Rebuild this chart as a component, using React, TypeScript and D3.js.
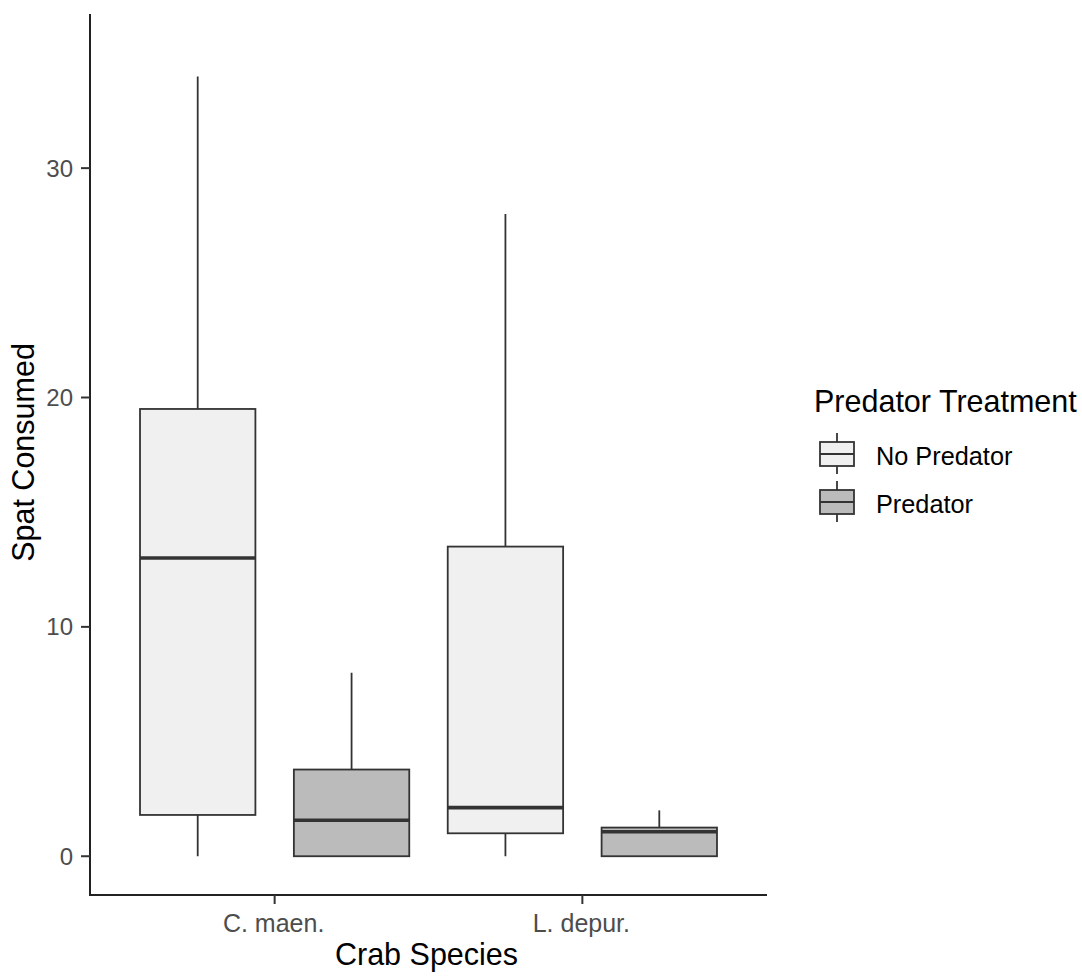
import React from "react";
import * as d3 from "d3";

const species = ["C. maen.", "L. depur."];
const treatments = ["No Predator", "Predator"];
const fills = ["#F0F0F0", "#BBBBBB"];
// [min, q1, median, q3, max] per species x treatment
const statsCMaen = [
  [0, 1.8, 13.0, 19.5, 34],
  [0, 0, 1.57, 3.78, 8],
];
const statsLDepur = [
  [0, 1.0, 2.12, 13.5, 28],
  [0, 0, 1.07, 1.25, 2],
];
const yTicks = [0, 10, 20, 30];

const W = 1082;
const H = 976;
const left = 90;
const right = 767;
const top = 14;
const bottom = 895;
const font = "'Liberation Sans', Arial, sans-serif";

export default function App() {
  const x = d3.scalePoint<string>().domain(species).range([left, right]).padding(0.6);
  const step = x.step();
  const y = d3.scaleLinear().domain([-1.69, 36.72]).range([bottom, top]);
  const offset = d3.scalePoint<string>().domain(treatments).range([-0.25 * step, 0.25 * step]);
  const boxW = 0.375 * step;
  const allStats = [statsCMaen, statsLDepur];

  return (
    <svg width={W} height={H} style={{ display: "block", position: "absolute", left: 0, top: 0 }}>
      <rect width={W} height={H} fill="#fff" />
      {species.map((sp, i) =>
        treatments.map((tr, j) => {
          const [mn, q1, md, q3, mx] = allStats[i][j];
          const cx = (x(sp) as number) + (offset(tr) as number);
          return (
            <g key={sp + tr}>
              <line x1={cx} x2={cx} y1={y(q3)} y2={y(mx)} stroke="#333" strokeWidth={1.8} />
              <line x1={cx} x2={cx} y1={y(q1)} y2={y(mn)} stroke="#333" strokeWidth={1.8} />
              <rect
                x={cx - boxW / 2}
                y={y(q3)}
                width={boxW}
                height={y(q1) - y(q3)}
                fill={fills[j]}
                stroke="#333"
                strokeWidth={1.8}
              />
              <line x1={cx - boxW / 2} x2={cx + boxW / 2} y1={y(md)} y2={y(md)} stroke="#333" strokeWidth={3.6} />
            </g>
          );
        })
      )}
      {/* axes */}
      <line x1={left} x2={left} y1={top} y2={bottom + 1} stroke="#222" strokeWidth={2} />
      <line x1={left - 1} x2={right} y1={bottom} y2={bottom} stroke="#222" strokeWidth={2} />
      {yTicks.map((t) => (
        <g key={t}>
          <line x1={left - 9} x2={left} y1={y(t)} y2={y(t)} stroke="#333" strokeWidth={2} />
          <text
            x={left - 17}
            y={y(t)}
            dy="0.35em"
            textAnchor="end"
            fontFamily={font}
            fontSize={24}
            fill="#4D4D4D"
          >
            {t}
          </text>
        </g>
      ))}
      {species.map((sp) => (
        <g key={sp}>
          <line x1={x(sp)} x2={x(sp)} y1={bottom} y2={bottom + 9} stroke="#333" strokeWidth={2} />
          <text x={(x(sp) as number) - 1} y={932} textAnchor="middle" fontFamily={font} fontSize={25} fill="#4D4D4D">
            {sp}
          </text>
        </g>
      ))}
      <text x={(left + right) / 2 - 2} y={965} textAnchor="middle" fontFamily={font} fontSize={30.5} fill="#000">
        Crab Species
      </text>
      <text
        transform={`translate(34, ${(top + bottom) / 2 - 2}) rotate(-90)`}
        textAnchor="middle"
        fontFamily={font}
        fontSize={30.5}
        fill="#000"
      >
        Spat Consumed
      </text>
      {/* legend */}
      <text x={814} y={412} fontFamily={font} fontSize={30.5} fill="#000">
        Predator Treatment
      </text>
      {treatments.map((tr, j) => {
        const cy = 454 + j * 48;
        const kx = 837;
        return (
          <g key={tr}>
            <line x1={kx} x2={kx} y1={cy - 21} y2={cy + 20} stroke="#333" strokeWidth={1.8} />
            <rect x={kx - 17} y={cy - 12} width={34} height={24} fill={fills[j]} stroke="#333" strokeWidth={1.8} />
            <line x1={kx - 17} x2={kx + 17} y1={cy} y2={cy} stroke="#333" strokeWidth={1.8} />
            <text x={876} y={cy + 11} fontFamily={font} fontSize={25.3} fill="#000">
              {tr}
            </text>
          </g>
        );
      })}
    </svg>
  );
}
